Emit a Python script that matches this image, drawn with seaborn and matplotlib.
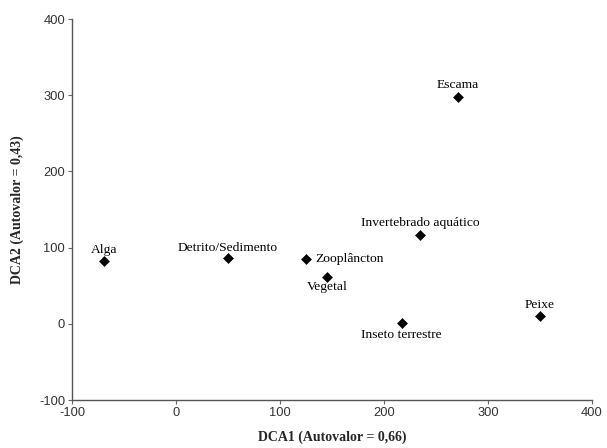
import matplotlib
matplotlib.use("Agg")
import matplotlib.pyplot as plt
import seaborn as sns
import pandas as pd

names = ["Alga", "Detrito/Sedimento", "Zooplâncton", "Vegetal", "Inseto terrestre",
         "Peixe", "Escama", "Invertebrado aquático"]
dca1 = [-69, 50, 125, 145, 217, 350, 271, 235]
dca2 = [83, 86, 85, 62, 1, 10, 298, 117]

df = pd.DataFrame({"name": names, "DCA1": dca1, "DCA2": dca2})

sns.set_theme(style="white")
plt.rcParams['font.family'] = ['Liberation Serif', 'DejaVu Serif']
plt.rcParams['axes.unicode_minus'] = False

fig = plt.figure(figsize=(6.07, 4.48), dpi=100)
ax = fig.add_axes([72/607, 1-400/448, (592-72)/607, (400-19)/448])
sns.scatterplot(data=df, x="DCA1", y="DCA2", marker="D", color="black", s=26,
                edgecolor="black", ax=ax, legend=False)

# label offsets (points): ha, va, dx, dy
placement = {
    "Alga": ("center", "bottom", 0, 3),
    "Detrito/Sedimento": ("center", "bottom", 0, 3),
    "Zooplâncton": ("left", "center", 7, 0),
    "Vegetal": ("center", "top", 0, -3),
    "Inseto terrestre": ("center", "top", 0, -4),
    "Peixe": ("center", "bottom", 0, 4),
    "Escama": ("center", "bottom", 0, 4),
    "Invertebrado aquático": ("center", "bottom", 0, 4),
}
for n, x, y in zip(names, dca1, dca2):
    ha, va, dx, dy = placement[n]
    ax.annotate(n, (x, y), xytext=(dx, dy), textcoords="offset points",
                ha=ha, va=va, fontsize=9.7, color="black")

ax.set_xlim(-100, 400)
ax.set_ylim(-100, 400)
ax.set_xticks([-100, 0, 100, 200, 300, 400])
ax.set_yticks([-100, 0, 100, 200, 300, 400])
for lab in ax.get_xticklabels() + ax.get_yticklabels():
    lab.set_family(['Liberation Sans', 'DejaVu Sans'])
    lab.set_fontsize(9.3)
    lab.set_color("#333333")
ax.tick_params(axis="both", which="major", direction="out", length=3, width=0.8,
               color="#666666", pad=2, bottom=True, left=True)
ax.set_xlabel("DCA1 (Autovalor = 0,66)", fontsize=10, fontweight="bold", labelpad=8)
ax.set_ylabel("DCA2 (Autovalor = 0,43)", fontsize=10, fontweight="bold", labelpad=11)
sns.despine(ax=ax)
for s in ["left", "bottom"]:
    ax.spines[s].set_color("#555555")
    ax.spines[s].set_linewidth(1.0)

fig.savefig("out.png", dpi=100)
